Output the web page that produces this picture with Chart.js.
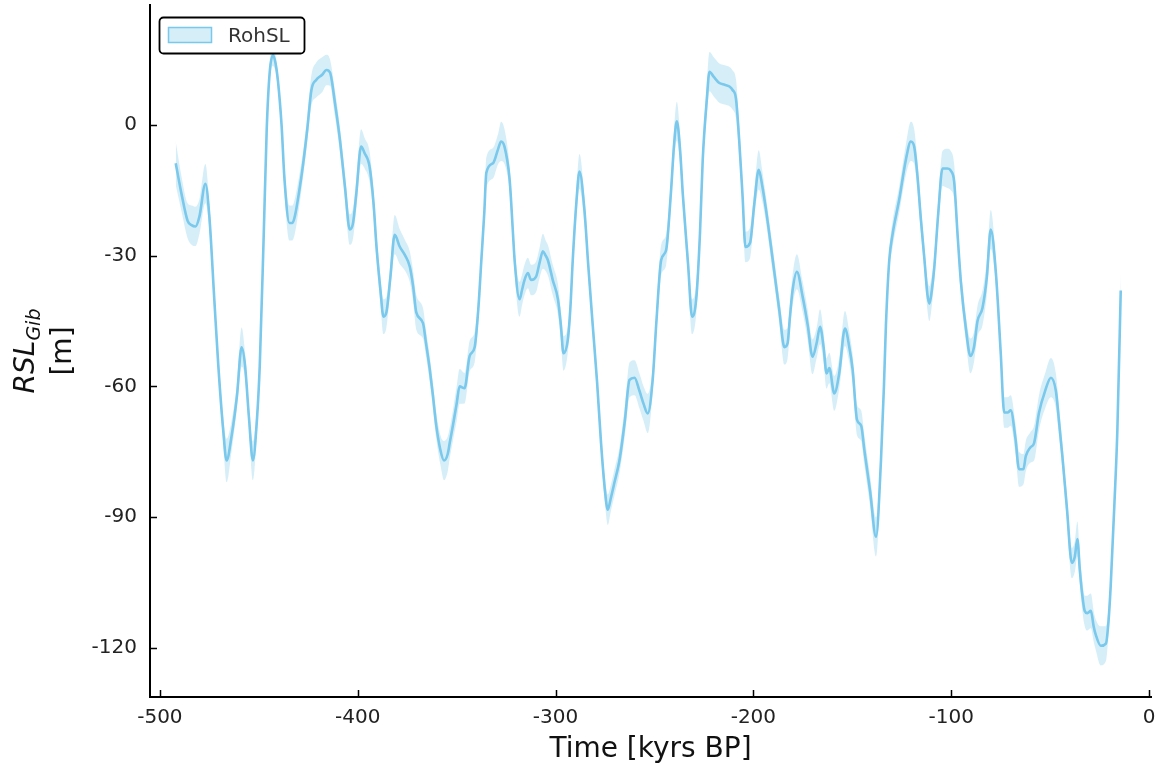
<!DOCTYPE html>
<html><head><meta charset="utf-8">
<script src="https://cdn.jsdelivr.net/npm/chart.js@4"></script>
<style>html,body{margin:0;padding:0;background:#fff;} canvas{display:block;}</style>
</head><body>
<canvas id="c" width="1159" height="768"></canvas>
<script>
// Time in kyrs BP (negative = past)
const times = [
-492,-489,-486,-484,-482,-480,-477,-475,-472.5,-470.5,-468,-466.3,-463.8,-461,-458.7,-457,-455,-453,-451,-449.5,
-447.5,-446,-444.5,-442.8,-441.5,-440.3,-438.5,-437,-434.5,-433,-431.8,-429.5,-427.6,-425.5,-423.4,-421,-418,-415.8,-414,-411.5,
-409,-406.5,-404,-402.4,-400.7,-398.3,-396.5,-394,-392,-390.5,-388.5,-387,-385.5,-383.5,-381.3,-378.8,-376,-373.7,-372,-370.4,
-367,-365.5,-363.6,-362,-360.3,-358,-356.4,-354.5,-353.5,-351.9,-350,-348.5,-346,-343.4,-340.9,-339,-337.5,-336,-335,-331.6,
-329,-327.5,-325.8,-323.2,-321.5,-320.7,-318.2,-317,-315.7,-314,-312.3,-309.8,-308,-306.4,-305,-303.9,-301.4,-298.8,-297.3,-296,
-293.8,-292.5,-291.3,-289.5,-287.9,-285.4,-283.5,-281.2,-279,-277,-275,-273.6,-272,-270.2,-267.7,-265,-262.6,-260.1,-257.6,-255.5,
-253.4,-250.9,-249,-246.6,-244.1,-241.7,-240,-238.7,-237,-235.7,-233,-231,-228.9,-227,-225.6,-223.5,-222.2,-220,-217.2,-214.5,
-212.1,-210.5,-208.8,-207.1,-205.5,-204,-201.7,-199.5,-197.3,-195.5,-193.6,-190.2,-186.9,-184.3,-182.7,-181.5,-180.2,-178,-175.1,-172.5,
-170.1,-168,-166.3,-164.5,-163,-161.6,-159.1,-156.6,-153.7,-151.5,-149.8,-147.6,-145.5,-143.9,-141,-138,-135.5,-134,-133,-131.3,
-129.6,-126.3,-122.9,-120.4,-118.7,-117,-115.3,-113.5,-112,-111,-109.8,-108.6,-106.5,-104.4,-101.9,-100.2,-98.5,-96.8,-95.1,-92.5,
-90.3,-88.5,-86.7,-84.2,-82,-80,-77.4,-75,-73.2,-71.5,-69.9,-67.5,-65.7,-63.5,-62.3,-60,-58.1,-55.6,-52.5,-49.6,
-47.1,-45.5,-43.8,-41.5,-39,-37.5,-36.2,-35,-33.7,-32.5,-31.2,-29.4,-28,-26.9,-24.4,-21.8,-20.5,-19.4,-17.5,-16,
-14.3
];
// Relative sea level at Gibraltar [m]
const rsl = [
-8.8,-16,-22,-23,-23.3,-21,-13.5,-21,-40,-55,-70,-77,-71.5,-62,-51,-55,-67,-77,-68,-55,
-25,-1,12,16,14,10,0,-12.6,-22.5,-22.5,-21,-15,-9,-1,8,10.3,11.5,12.6,12,5,
-3.4,-14,-24,-22.6,-15.7,-5,-6.5,-9.6,-18,-28,-38,-44,-43,-35,-25.2,-27.9,-30,-32.5,-37,-43,
-45.5,-50,-56,-62,-69,-75,-77,-75.5,-73,-69,-64,-60,-60.4,-53,-51,-42,-31,-20,-11,-8.8,
-5.5,-3.8,-5,-12.6,-25,-31,-40,-38,-35.6,-34,-35.6,-34.8,-31.5,-29,-30,-31,-35.6,-40,-46,-52.4,
-49.3,-42,-31,-18,-10.7,-19.5,-32,-46,-59,-73,-84,-88.3,-85.5,-82,-77,-68,-58.5,-58,-61,-64,
-66.2,-58.5,-45,-31,-28.7,-15.7,-4,0.8,-6,-15.7,-32,-44,-40,-25,-8,6,12.2,11,9.6,9.2,
8.8,8,6,-4,-16,-28,-27.1,-18,-10.3,-14,-19.5,-31,-42.5,-51,-50.1,-44,-38,-33.7,-39.4,-46,
-53.2,-50,-46.3,-51,-57,-55.8,-61.6,-57,-46.7,-51,-56.2,-67.7,-69,-74.6,-84,-94.5,-77,-60,-46,-31,
-25,-17.2,-8,-3.8,-5,-12,-21.8,-31,-39,-41,-38,-33,-20,-10,-10,-10.5,-13,-25,-36,-47,
-53,-51,-45,-42,-35,-24,-34,-52,-66,-66,-65.5,-72,-79,-79,-76,-74,-73,-66,-61,-58,
-61,-68,-76,-88,-100.5,-99,-95,-102,-108,-111.5,-112,-111.5,-115,-117,-119.5,-119,-114,-106,-87,-70,
-38
];
// Half-width of the uncertainty band [m]
const rslErr = [
5,4,4,4.5,4.5,4,4.5,3,2.5,2.5,3,5,3.5,3,4.5,3,2.5,4.5,3,2,
2,2,2,2.5,2,2,2,3,4,4,4,3.5,3,3,3.5,4,4,3.5,3,3,
3,3,3.5,3.5,3.5,4,3.5,3.5,3,3,3,4,3.5,3,4.5,4,3.5,3.5,3.5,4,
3.5,3,3,3,3,3.5,4.5,4,3.5,3.5,4,4,3.5,3.5,3.5,3,3,3,3.5,3.5,
3.5,4.5,4,3,3,3,4,3.5,3.5,3.5,3.5,3.5,3.5,4,3.5,3.5,3.5,3.5,3.5,4,
3,3,3,3,4,3,2.5,2.5,2.5,2.5,3,3.5,3,3,3,3.5,4,4,4,4,
4.5,3,3,3.5,3.5,3,3.5,4.5,3.5,3,3,4,3.5,3,3,3.5,4.5,4.5,4.5,4.5,
4.5,4.5,4.5,3.5,3,3.5,3.5,3,4.5,3.5,3,3,3,4,3.5,3,3.5,4,3.5,3.5,
4,3.5,4,3.5,3.5,3.5,4,3.5,4,3.5,3.5,3.5,3.5,3.5,3.5,4.5,3,2.5,2.5,2.5,
3,3,3.5,4.5,4,3.5,3,3,3.5,4,3.5,3,3,4,4.5,4.5,4,3,3,3,
4,3.5,3.5,4,4,4.5,3,3,3.5,3.5,3.5,3.5,4,3.5,3.5,3.5,4,4,4,4.5,
4,3.5,3,3,3.5,3.5,4,3.5,3.5,3.5,4,4,3.5,3.5,4.5,4,3,2.5,2,2,
4
];
const xTicks = [-500,-400,-300,-200,-100,0];
const yTicks = [-120,-90,-60,-30,0];
const seriesName = 'RohSL';
const xTitle = 'Time [kyrs BP]';
const yTitleMain = 'RSL';
const yTitleSub = 'Gib';
const yTitleUnit = '[m]';

const LINE = 'rgb(122,200,235)';
const BAND = 'rgba(135,206,235,0.35)';
const FONT = '"DejaVu Sans", sans-serif';

const linePts = times.map((t,i)=>({x:t,y:rsl[i]}));
const lowPts = times.map((t,i)=>({x:t,y:rsl[i]-rslErr[i]}));
const upPts = times.map((t,i)=>({x:t,y:rsl[i]+rslErr[i]}));

const decor = {
  id:'decor',
  afterDraw(chart){
    const ctx = chart.ctx;
    const {left,right,top,bottom} = chart.chartArea;
    const xs = chart.scales.x, ys = chart.scales.y;
    ctx.save();
    // inward tick marks
    ctx.strokeStyle = '#000'; ctx.lineWidth = 1.5;
    ctx.beginPath();
    xTicks.forEach(v=>{const p=Math.round(xs.getPixelForValue(v))+0.5; ctx.moveTo(p,bottom); ctx.lineTo(p,bottom-7);});
    yTicks.forEach(v=>{const p=Math.round(ys.getPixelForValue(v))+0.5; ctx.moveTo(left,p); ctx.lineTo(left+7,p);});
    ctx.stroke();
    // x title
    ctx.fillStyle = '#111';
    ctx.font = '28px ' + FONT;
    ctx.textAlign = 'center'; ctx.textBaseline = 'alphabetic';
    ctx.fillText(xTitle, (left+right)/2, 757);
    // y title (rotated, with subscript)
    ctx.save();
    ctx.translate(34, (top+bottom)/2);
    ctx.rotate(-Math.PI/2);
    ctx.textAlign = 'left';
    const fMain = 'italic 28px ' + FONT, fSub = 'italic 19px ' + FONT;
    ctx.font = fMain; const w1 = ctx.measureText(yTitleMain).width;
    ctx.font = fSub; const w2 = ctx.measureText(yTitleSub).width;
    const x0 = -(w1+w2)/2;
    ctx.font = fMain; ctx.fillText(yTitleMain, x0, 0);
    ctx.font = fSub; ctx.fillText(yTitleSub, x0+w1, 6);
    ctx.font = '28px ' + FONT; ctx.textAlign = 'center';
    ctx.fillText(yTitleUnit, 0, 37);
    ctx.restore();
    // legend
    ctx.beginPath();
    ctx.roundRect(159.5, 17.5, 145, 36, 4);
    ctx.fillStyle = '#fff'; ctx.fill();
    ctx.strokeStyle = '#000'; ctx.lineWidth = 1.8; ctx.stroke();
    ctx.fillStyle = BAND; ctx.fillRect(168, 27, 44, 16);
    ctx.strokeStyle = LINE; ctx.lineWidth = 1.5; ctx.strokeRect(168.5, 27.5, 43, 15);
    ctx.fillStyle = '#333'; ctx.font = '20px ' + FONT; ctx.textAlign = 'left';
    ctx.fillText(seriesName, 228, 42);
    ctx.restore();
  }
};

new Chart(document.getElementById('c'), {
  type:'line',
  data:{datasets:[
    {label:seriesName, data:linePts, borderColor:LINE, borderWidth:2.6, pointRadius:0, fill:false, cubicInterpolationMode:'monotone'},
    {label:'low', data:lowPts, borderWidth:0, borderColor:'rgba(0,0,0,0)', pointRadius:0, fill:false, cubicInterpolationMode:'monotone'},
    {label:'up', data:upPts, borderWidth:0, borderColor:'rgba(0,0,0,0)', pointRadius:0, fill:1, backgroundColor:BAND, cubicInterpolationMode:'monotone'}
  ]},
  options:{
    responsive:false, animation:false, devicePixelRatio:1,
    layout:{padding:{top:5,right:8,left:0,bottom:0}},
    plugins:{legend:{display:false}, tooltip:{enabled:false}},
    scales:{
      x:{type:'linear', min:-505, max:1,
        grid:{display:false, drawTicks:false},
        border:{display:true, color:'#000', width:2},
        ticks:{font:{family:FONT,size:20}, color:'#222', padding:9, maxRotation:0, autoSkip:false},
        afterBuildTicks:s=>{s.ticks = xTicks.map(v=>({value:v}));},
        afterFit:s=>{s.height = 71; s.paddingLeft = 0; s.paddingRight = 0; s.paddingTop = 0; s.paddingBottom = 0;}
      },
      y:{type:'linear', min:-131.25, max:27.5,
        grid:{display:false, drawTicks:false},
        border:{display:true, color:'#000', width:2},
        ticks:{font:{family:FONT,size:20}, color:'#222', padding:13, autoSkip:false},
        afterBuildTicks:s=>{s.ticks = yTicks.map(v=>({value:v}));},
        afterFit:s=>{s.width = 150; s.paddingTop = 0; s.paddingBottom = 0; s.paddingLeft = 0; s.paddingRight = 0;}
      }
    }
  },
  plugins:[decor]
});
</script>
</body></html>
